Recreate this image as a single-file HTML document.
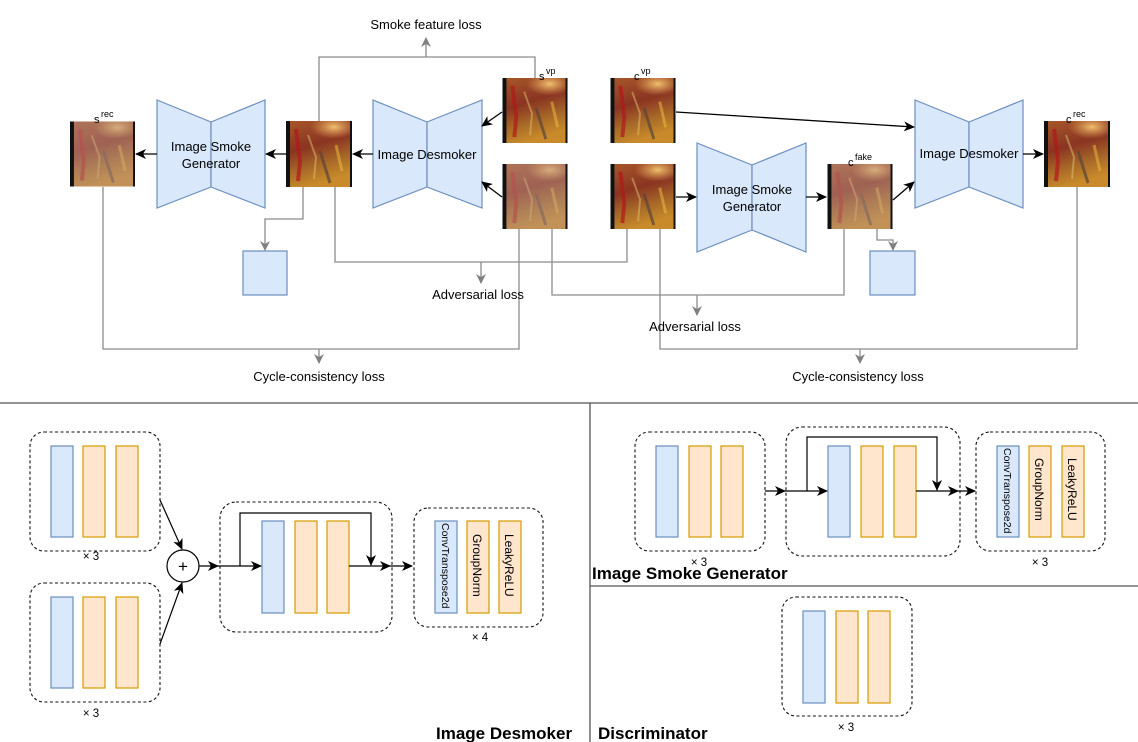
<!DOCTYPE html>
<html><head><meta charset="utf-8"><style>
html,body{margin:0;padding:0;background:#fff;}
svg{display:block;}
text{font-family:"Liberation Sans",Arial,sans-serif;fill:#000;}
</style></head><body>
<svg width="1138" height="742" viewBox="0 0 1138 742" xmlns="http://www.w3.org/2000/svg">
<defs>
<linearGradient id="base" x1="0" y1="0" x2="0.3" y2="1">
<stop offset="0" stop-color="#a8582a"/><stop offset="0.45" stop-color="#8a3422"/><stop offset="0.75" stop-color="#a86a28"/><stop offset="1" stop-color="#c88a2a"/>
</linearGradient>
<radialGradient id="blob" cx="0.5" cy="0.5" r="0.5">
<stop offset="0" stop-color="#f0c070"/><stop offset="1" stop-color="#e0a050" stop-opacity="0"/>
</radialGradient>
<symbol id="img" viewBox="0 0 66 66">
<rect width="66" height="66" fill="url(#base)"/>
<ellipse cx="48" cy="6" rx="24" ry="12" fill="url(#blob)"/>
<path d="M10 8 L14 40 L12 60" stroke="#b01818" stroke-width="4" fill="none" opacity="0.7"/>
<path d="M22 14 L30 36 L28 58" stroke="#e0c070" stroke-width="2" fill="none" opacity="0.5"/>
<path d="M34 30 L44 62" stroke="#5a4538" stroke-width="3" fill="none" opacity="0.7"/>
<path d="M50 24 L56 50" stroke="#f0c040" stroke-width="3" fill="none" opacity="0.5"/>
<rect x="0" y="0" width="4" height="66" fill="#111"/>
<rect x="64" y="0" width="2" height="66" fill="#111"/>
</symbol>
<symbol id="smk" viewBox="0 0 66 66">
<use href="#img" width="66" height="66"/>
<rect x="4" y="0" width="60" height="66" fill="#b89890" opacity="0.45"/>
</symbol>
<marker id="ab" markerWidth="12" markerHeight="12" refX="10" refY="6" orient="auto" markerUnits="userSpaceOnUse">
<path d="M0,1 L11,6 L0,11 L3,6 Z" fill="#000"/>
</marker>
<marker id="ag" markerWidth="12" markerHeight="12" refX="9" refY="6" orient="auto" markerUnits="userSpaceOnUse">
<path d="M0,1 L10,6 L0,11 L3,6 Z" fill="#808080"/>
</marker>
</defs>

<use href="#smk" x="70" y="121" width="65" height="66"/>
<use href="#img" x="286" y="121" width="66" height="66"/>
<use href="#img" x="502" y="78" width="66" height="65"/>
<use href="#smk" x="502" y="164" width="66" height="65"/>
<use href="#img" x="610" y="78" width="66" height="65"/>
<use href="#img" x="610" y="164" width="66" height="65"/>
<use href="#smk" x="827" y="164" width="66" height="65"/>
<use href="#img" x="1044" y="121" width="66" height="66"/>

<g font-size="11">
<text x="94" y="123">s</text><text x="101" y="117" font-size="9">rec</text>
<text x="539" y="80">s</text><text x="546" y="74" font-size="9">vp</text>
<text x="634" y="80">c</text><text x="641" y="74" font-size="9">vp</text>
<text x="848" y="166">c</text><text x="855" y="160" font-size="9">fake</text>
<text x="1066" y="123">c</text><text x="1073" y="117" font-size="9">rec</text>
</g>

<g fill="#dae8fc" stroke="#6c8ebf" stroke-width="1.2">
<polygon points="157,100 211,122 211,187 157,208"/><polygon points="211,122 265,100 265,208 211,187"/>
<polygon points="373,100 427,122 427,187 373,208"/><polygon points="427,122 482,100 482,208 427,187"/>
<polygon points="697,143 752,165 752,230 697,252"/><polygon points="752,165 806,143 806,252 752,230"/>
<polygon points="915,100 969,122 969,187 915,208"/><polygon points="969,122 1023,100 1023,208 969,187"/>
<rect x="243" y="251" width="44" height="44"/>
<rect x="870" y="251" width="45" height="44"/>
</g>
<g font-size="13" text-anchor="middle">
<text x="211" y="151">Image Smoke</text><text x="211" y="168">Generator</text>
<text x="427" y="159">Image Desmoker</text>
<text x="752" y="194">Image Smoke</text><text x="752" y="211">Generator</text>
<text x="969" y="158">Image Desmoker</text>
</g>

<g stroke="#000" stroke-width="1.3" fill="none" marker-end="url(#ab)">
<line x1="502" y1="112" x2="482" y2="126"/>
<line x1="502" y1="197" x2="482" y2="182"/>
<line x1="373" y1="154" x2="353" y2="154"/>
<line x1="286" y1="154" x2="266" y2="154"/>
<line x1="157" y1="154" x2="136" y2="154"/>
<line x1="676" y1="112" x2="914" y2="127"/>
<line x1="676" y1="197" x2="696" y2="197"/>
<line x1="806" y1="197" x2="826" y2="197"/>
<line x1="893" y1="200" x2="914" y2="182"/>
<line x1="1023" y1="154" x2="1043" y2="154"/>
</g>

<g stroke="#8c8c8c" stroke-width="1.3" fill="none">
<polyline points="319,121 319,57 535,57 535,78"/>
<line x1="426" y1="57" x2="426" y2="38" marker-end="url(#ag)"/>
<polyline points="303,187 303,219 265,219 265,250" marker-end="url(#ag)"/>
<polyline points="335,187 335,262 627,262 627,229"/>
<line x1="481" y1="262" x2="481" y2="283" marker-end="url(#ag)"/>
<polyline points="552,229 552,295 844,295 844,229"/>
<line x1="697" y1="295" x2="697" y2="315" marker-end="url(#ag)"/>
<polyline points="103,187 103,349 519,349 519,229"/>
<line x1="319" y1="349" x2="319" y2="363" marker-end="url(#ag)"/>
<polyline points="660,229 660,349 1077,349 1077,187"/>
<line x1="860" y1="349" x2="860" y2="363" marker-end="url(#ag)"/>
<polyline points="877,229 877,240 893,240 893,250" marker-end="url(#ag)"/>
</g>
<g font-size="13" text-anchor="middle">
<text x="426" y="29">Smoke feature loss</text>
<text x="478" y="299">Adversarial loss</text>
<text x="695" y="331">Adversarial loss</text>
<text x="319" y="381">Cycle-consistency loss</text>
<text x="858" y="381">Cycle-consistency loss</text>
</g>

<g stroke="#555" stroke-width="1.3">
<line x1="0" y1="403" x2="1138" y2="403"/>
<line x1="590" y1="403" x2="590" y2="742"/>
<line x1="590" y1="586" x2="1138" y2="586"/>
</g>

<g fill="none" stroke="#111" stroke-width="1.1" stroke-dasharray="3,2.5">
<rect x="30" y="432" width="130" height="119" rx="14"/>
<rect x="30" y="583" width="130" height="119" rx="14"/>
<rect x="220" y="502" width="172" height="130" rx="16"/>
<rect x="414" y="508" width="129" height="119" rx="14"/>
<rect x="635" y="432" width="130" height="119" rx="14"/>
<rect x="786" y="427" width="174" height="129" rx="16"/>
<rect x="976" y="432" width="129" height="119" rx="14"/>
<rect x="782" y="597" width="130" height="119" rx="14"/>
</g>

<g stroke-width="1.2">
<g fill="#dae8fc" stroke="#6c8ebf">
<rect x="51" y="446" width="22" height="91"/><rect x="51" y="597" width="22" height="91"/>
<rect x="262" y="521" width="22" height="92"/><rect x="435" y="521" width="22" height="92"/>
<rect x="656" y="446" width="22" height="91"/><rect x="828" y="446" width="22" height="91"/>
<rect x="997" y="446" width="22" height="91"/><rect x="803" y="611" width="22" height="92"/>
</g>
<g fill="#ffe6cc" stroke="#d79b00">
<rect x="83" y="446" width="22" height="91"/><rect x="116" y="446" width="22" height="91"/>
<rect x="83" y="597" width="22" height="91"/><rect x="116" y="597" width="22" height="91"/>
<rect x="295" y="521" width="22" height="92"/><rect x="327" y="521" width="22" height="92"/>
<rect x="467" y="521" width="22" height="92"/><rect x="499" y="521" width="22" height="92"/>
<rect x="689" y="446" width="22" height="91"/><rect x="721" y="446" width="22" height="91"/>
<rect x="861" y="446" width="22" height="91"/><rect x="894" y="446" width="22" height="91"/>
<rect x="1029" y="446" width="22" height="91"/><rect x="1062" y="446" width="22" height="91"/>
<rect x="836" y="611" width="22" height="92"/><rect x="868" y="611" width="22" height="92"/>
</g>
</g>

<g font-size="12">
<text transform="translate(442,523) rotate(90)" font-size="10.5">ConvTranspose2d</text>
<text transform="translate(473,534) rotate(90)">GroupNorm</text>
<text transform="translate(505,534) rotate(90)">LeakyReLU</text>
<text transform="translate(1004,448) rotate(90)" font-size="10.5">ConvTranspose2d</text>
<text transform="translate(1035,458) rotate(90)">GroupNorm</text>
<text transform="translate(1068,458) rotate(90)">LeakyReLU</text>
</g>

<circle cx="183" cy="566" r="16" fill="#fff" stroke="#000" stroke-width="1.2"/>
<text x="183" y="572" font-size="17" text-anchor="middle">+</text>
<g stroke="#000" stroke-width="1.2" fill="none" marker-end="url(#ab)">
<line x1="160" y1="500" x2="182" y2="549"/>
<line x1="160" y1="644" x2="182" y2="583"/>
<line x1="199" y1="566" x2="218" y2="566"/>
<line x1="218" y1="566" x2="261" y2="566"/>
<polyline points="240,566 240,513 371,513 371,565"/>
<line x1="349" y1="566" x2="390" y2="566"/>
<line x1="390" y1="566" x2="412" y2="566"/>
<line x1="765" y1="491" x2="785" y2="491"/>
<line x1="785" y1="491" x2="827" y2="491"/>
<polyline points="807,491 807,437 937,437 937,490"/>
<line x1="916" y1="491" x2="958" y2="491"/>
<line x1="958" y1="491" x2="975" y2="491"/>
</g>

<g font-size="11.5" text-anchor="middle">
<text x="91" y="560">× 3</text>
<text x="91" y="717">× 3</text>
<text x="480" y="641">× 4</text>
<text x="699" y="566">× 3</text>
<text x="1040" y="566">× 3</text>
<text x="846" y="731">× 3</text>
</g>
<g font-size="17" font-weight="bold">
<text x="436" y="739">Image Desmoker</text>
<text x="592" y="579">Image Smoke Generator</text>
<text x="598" y="739">Discriminator</text>
</g>
</svg>
</body></html>
